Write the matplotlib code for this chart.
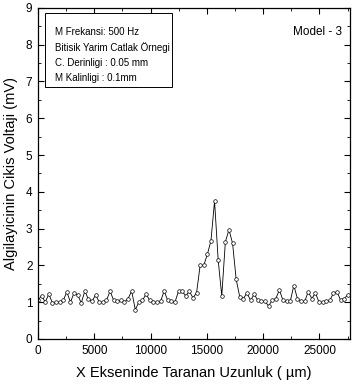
import matplotlib
matplotlib.use("Agg")
import matplotlib.pyplot as plt
import numpy as np
from matplotlib.ticker import MultipleLocator
from matplotlib.patches import Rectangle

plt.rcParams['font.family'] = ['Liberation Sans Narrow', 'Liberation Sans', 'DejaVu Sans']

step_um = 320
voltage = [1.05,1.18,1.00,1.22,0.98,1.00,1.00,1.05,1.28,1.00,
           1.25,1.20,0.98,1.30,1.08,1.02,1.20,1.00,1.00,1.05,
           1.30,1.05,1.02,1.05,1.00,1.10,1.30,0.80,1.00,1.05,
           1.22,1.05,1.00,1.00,1.02,1.30,1.05,1.02,1.00,
           1.30,1.30,1.17,1.30,1.12,1.25,2.00,2.00,2.30,2.67,
           3.75,2.15,1.17,2.64,2.97,2.60,1.62,1.14,1.10,
           1.25,1.05,1.22,1.05,1.02,1.02,0.90,1.05,1.10,1.33,
           1.05,1.02,1.02,1.45,1.10,1.02,1.02,1.28,1.10,1.25,
           1.00,1.00,1.02,1.05,1.25,1.28,1.05,1.10,1.20]
position = np.arange(len(voltage)) * step_um

info_lines = ["M Frekansi: 500 Hz", "Bitisik Yarim Catlak Örnegi",
              "C. Derinligi : 0.05 mm", "M Kalinligi : 0.1mm"]
model_label = "Model - 3"
xlabel = "X Ekseninde Taranan Uzunluk ( µm)"
ylabel = "Algilayicinin Cikis Voltaji (mV)"

fig = plt.figure(figsize=(3.52, 3.91), dpi=100)
ax = fig.add_axes([0.108, 0.133, 0.886, 0.847])
ax.plot(position, voltage, color='black', lw=0.6, marker='o', ms=2.6,
        mfc='white', mec='black', mew=0.5)
ax.set_xlim(0, 27700)
ax.set_ylim(0, 9)
ax.xaxis.set_major_locator(MultipleLocator(5000))
ax.xaxis.set_minor_locator(MultipleLocator(2500))
ax.yaxis.set_major_locator(MultipleLocator(1))
ax.yaxis.set_minor_locator(MultipleLocator(0.5))
ax.tick_params(which='both', direction='in', top=True, right=True, labelsize=8.5, pad=4)
ax.tick_params(which='major', length=4, width=0.8)
ax.tick_params(which='minor', length=2, width=0.6)
for s in ax.spines.values():
    s.set_linewidth(0.9)
ax.set_xlabel(xlabel, fontsize=10.5, labelpad=7)
ax.set_ylabel(ylabel, fontsize=10.5, family=['Liberation Sans', 'DejaVu Sans'], labelpad=6)

ax.add_patch(Rectangle((0.0224, 0.761), 0.4071, 0.224, transform=ax.transAxes,
                       fc='white', ec='black', lw=0.7, zorder=3))
for yy, line in zip([0.9275, 0.879, 0.834, 0.789], info_lines):
    ax.text(0.0545, yy, line, transform=ax.transAxes, va='center', ha='left',
            fontsize=7, zorder=4)
ax.text(0.975, 0.945, model_label, transform=ax.transAxes, va='top', ha='right', fontsize=8.5)

fig.savefig("out.png", dpi=100)
